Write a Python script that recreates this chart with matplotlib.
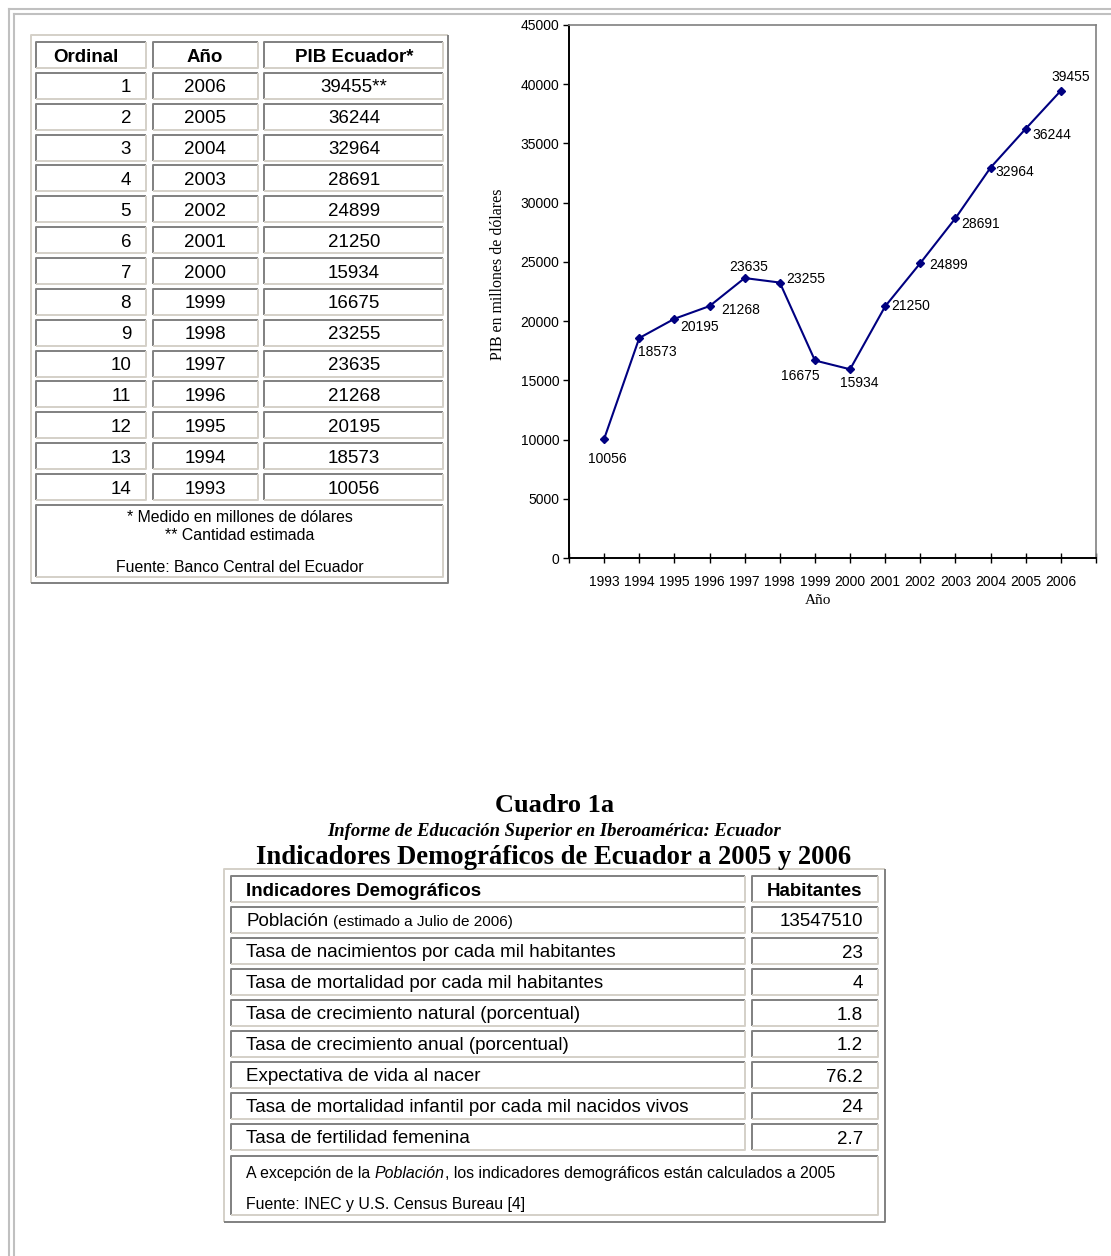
import matplotlib
matplotlib.use('Agg')
import matplotlib.pyplot as plt

plt.rcParams['font.family'] = ['Liberation Sans', 'DejaVu Sans']

W, H = 1111, 1256

# --- data: tabla PIB ---
ordinales = ['1', '2', '3', '4', '5', '6', '7', '8', '9', '10', '11', '12', '13', '14']
anios_tabla = ['2006', '2005', '2004', '2003', '2002', '2001', '2000',
               '1999', '1998', '1997', '1996', '1995', '1994', '1993']
pib_tabla = ['39455**', '36244', '32964', '28691', '24899', '21250', '15934',
             '16675', '23255', '23635', '21268', '20195', '18573', '10056']

# --- data: grafico ---
anios = ['1993', '1994', '1995', '1996', '1997', '1998', '1999',
         '2000', '2001', '2002', '2003', '2004', '2005', '2006']
pib = [10056, 18573, 20195, 21268, 23635, 23255, 16675,
       15934, 21250, 24899, 28691, 32964, 36244, 39455]
# label offsets (pixels) for each data label
offs = [(3, -20), (18, -14), (25, -8), (31, -4), (4, 11), (26, 4), (-15, -16),
        (9, -14), (25, 0), (28, -2), (25, -6), (24, -4), (26, -6), (10, 14)]

# --- data: indicadores ---
indicadores = ['Población',
               'Tasa de nacimientos por cada mil habitantes',
               'Tasa de mortalidad por cada mil habitantes',
               'Tasa de crecimiento natural (porcentual)',
               'Tasa de crecimiento anual (porcentual)',
               'Expectativa de vida al nacer',
               'Tasa de mortalidad infantil por cada mil nacidos vivos',
               'Tasa de fertilidad femenina']
valores = ['13547510', '23', '4', '1.8', '1.2', '76.2', '24', '2.7']

DARK = '#808080'
LIGHT = '#d4d0c8'
LW = 1.4
FS = 13.5
FN = 11.4

fig = plt.figure(figsize=(W / 100, H / 100), dpi=100)
bg = fig.add_axes([0, 0, 1, 1])
bg.set_xlim(0, W)
bg.set_ylim(H, 0)
bg.axis('off')


def bevel(x0, y0, x1, y1, tl, br):
    bg.plot([x0, x0, x1], [y1, y0, y0], color=tl, lw=LW, solid_capstyle='butt')
    bg.plot([x0, x1, x1], [y1, y1, y0], color=br, lw=LW, solid_capstyle='butt')


def txt(x, y, s, **kw):
    # centred text, nudged down a bit so it sits like browser text
    return bg.text(x, y + 2, s, va='center', **kw)


# page frame (double grey line)
for p in (8.5, 13.5):
    bg.plot([p, W], [p, p], color='#c0c0c0', lw=1.5)
    bg.plot([p, p], [p, H], color='#c0c0c0', lw=1.5)

# ---------------- tabla 1 ----------------
bevel(31, 35, 448, 583, LIGHT, DARK)
cols1 = [(36, 146), (153, 258), (264, 443)]
pitch1 = 30.86
for i in range(15):
    top = 42 + i * pitch1
    for c0, c1 in cols1:
        bevel(c0, top, c1, top + 26, DARK, LIGHT)
    yc = 55 + i * pitch1
    if i == 0:
        txt(86, yc, 'Ordinal', ha='center', fontsize=FS, weight='bold')
        txt(205, yc, 'Año', ha='center', fontsize=FS, weight='bold')
        txt(354, yc, 'PIB Ecuador*', ha='center', fontsize=FS, weight='bold')
    else:
        txt(131, yc, ordinales[i - 1], ha='right', fontsize=FS)
        txt(205, yc, anios_tabla[i - 1], ha='center', fontsize=FS)
        txt(354, yc, pib_tabla[i - 1], ha='center', fontsize=FS)
bevel(36, 505, 443, 577, DARK, LIGHT)
txt(240, 516, '* Medido en millones de dólares', ha='center', fontsize=FN)
txt(240, 534, '** Cantidad estimada', ha='center', fontsize=FN)
txt(240, 565, 'Fuente: Banco Central del Ecuador', ha='center', fontsize=FN)

# ---------------- grafico ----------------
ax = fig.add_axes([569 / W, (H - 558) / H, (1096 - 569) / W, (558 - 25) / H])
x = list(range(len(anios)))
ax.plot(x, pib, color='#000080', lw=1.5, marker='D', ms=4.5)
for xi, v, (dx, dy) in zip(x, pib, offs):
    ax.annotate(str(v), (xi, v), xytext=(dx, dy), textcoords='offset pixels',
                ha='center', va='center', fontsize=10)
ax.set_xlim(-1, 14)
ax.set_ylim(0, 45000)
ax.set_yticks(range(0, 45001, 5000))
ax.set_xticks(range(-1, 15), minor=True)
ax.set_xticks(x)
ax.set_xticklabels(anios)
ax.tick_params(axis='y', direction='out', length=4, width=1, labelsize=10, pad=3)
ax.tick_params(axis='x', which='both', direction='inout', length=7, width=1)
ax.tick_params(axis='x', which='major', labelsize=10, pad=9)
for s in ('left', 'bottom'):
    ax.spines[s].set_linewidth(1.4)
    ax.spines[s].set_color('black')
for s in ('top', 'right'):
    ax.spines[s].set_linewidth(1.2)
    ax.spines[s].set_color(DARK)
ax.set_ylabel('PIB en millones de dólares', family='Liberation Serif', fontsize=11.4)
ax.yaxis.set_label_coords(-0.12, 0.533)
ax.set_xlabel('Año', family='Liberation Serif', fontsize=11)
ax.xaxis.set_label_coords(0.4725, -0.079)
ax.xaxis.label.set_va('center')

# ---------------- tabla 2 ----------------
bg.text(555, 805, 'Cuadro 1a', ha='center', va='center', fontsize=19,
        family='Liberation Serif', weight='bold')
bg.text(554, 831, 'Informe de Educación Superior en Iberoamérica: Ecuador', ha='center',
        va='center', fontsize=13.4, family='Liberation Serif', weight='bold', style='italic')
bg.text(554, 858, 'Indicadores Demográficos de Ecuador a 2005 y 2006', ha='center',
        va='center', fontsize=19.2, family='Liberation Serif', weight='bold')

bevel(224, 869, 885, 1222, LIGHT, DARK)
cols2 = [(231, 745), (752, 878)]
r = fig.canvas.get_renderer()
for i in range(9):
    top = 876 + i * 31
    for c0, c1 in cols2:
        bevel(c0, top, c1, top + 26, DARK, LIGHT)
    yc = 889 + i * 31
    if i == 0:
        txt(246, yc, 'Indicadores Demográficos', ha='left', fontsize=FS, weight='bold')
        txt(815, yc, 'Habitantes', ha='center', fontsize=FS, weight='bold')
    else:
        txt(863, yc, valores[i - 1], ha='right', fontsize=FS)
        t = bg.text(246, yc + 6, indicadores[i - 1], ha='left', va='baseline', fontsize=FS)
        if i == 1:
            w = t.get_window_extent(r).width
            bg.text(246 + w + 5, yc + 6, '(estimado a Julio de 2006)', ha='left',
                    va='baseline', fontsize=11)
bevel(231, 1156, 878, 1215, DARK, LIGHT)
xx = 246
for piece, st in [('A excepción de la ', 'normal'), ('Población', 'italic'),
                  (', los indicadores demográficos están calculados a 2005', 'normal')]:
    t = bg.text(xx, 1178, piece, ha='left', va='baseline', fontsize=FN, style=st)
    xx += t.get_window_extent(r).width
bg.text(246, 1209, 'Fuente: INEC y U.S. Census Bureau [4]', ha='left', va='baseline', fontsize=FN)

fig.savefig('out.png', dpi=100)
